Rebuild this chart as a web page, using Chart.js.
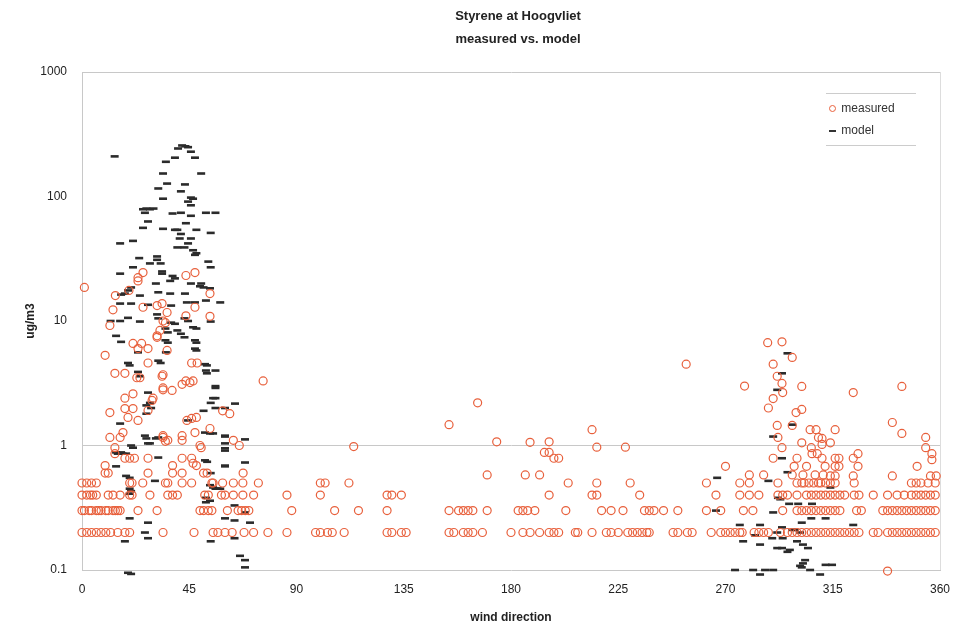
<!DOCTYPE html>
<html>
<head>
<meta charset="utf-8">
<script src="https://cdn.jsdelivr.net/npm/chart.js@4.4.1/dist/chart.umd.min.js"></script>
<style>
    body { margin: 0; background: #fff; font-family: 'Liberation Sans', Arial, sans-serif; }
    #wrap { position: relative; width: 964px; height: 629px; }
    .title { position: absolute; left: 418px; width: 200px; text-align: center; font-weight: bold; font-size: 13px; color: #222; }
    #legend { position: absolute; left: 826px; top: 93px; width: 90px; border-top: 1px solid #ccc; border-bottom: 1px solid #ccc; padding: 3px 0 4px 0; font-size: 12px; color: #333; }
    #legend div { height: 22px; line-height: 22px; }
    .sym { display: inline-block; width: 12px; text-align: center; }
    .circ { display: inline-block; width: 5px; height: 5px; border: 1px solid #e8603c; border-radius: 50%; }
    .dash { display: inline-block; width: 7px; height: 2px; background: #333; vertical-align: middle; }
</style>
</head>
<body>
<div id="wrap">
    <canvas id="chart"></canvas>
    <div class="title" style="top: 8px;">Styrene at Hoogvliet</div>
    <div class="title" style="top: 31px;">measured vs. model</div>
    <div id="legend">
        <div><span class="sym"><span class="circ"></span></span> measured</div>
        <div><span class="sym"><span class="dash"></span></span> model</div>
    </div>
</div>
<script>
const colors = {
    measured: '#e8603c',
    model: '#2b2b2b',
    grid: '#c8c8c8'
};

const xTicks = [0, 45, 90, 135, 180, 225, 270, 315, 360];
const yTicks = [0.1, 1, 10, 100, 1000];

// measured readings sitting on the detection steps (wind directions)
const measuredAt02 = [0, 2, 4, 6, 8, 10, 12, 15, 18, 20, 34, 47, 55, 57, 60, 63, 68, 72, 78, 86, 98, 100, 103, 105, 110,
    128, 130, 134, 136, 154, 156, 160, 162, 164, 168, 180, 185, 188, 192, 196, 198, 200, 207, 208, 214, 220, 222, 225,
    229, 231, 233, 235, 237, 238, 248, 250, 254, 256, 264, 268, 270, 272, 274, 276, 277, 282, 284, 286, 288, 293, 296,
    298, 300, 302, 304, 306, 308, 310, 312, 314, 316, 318, 320, 322, 324, 326, 332, 334, 338, 340, 342, 344, 346, 348,
    350, 352, 354, 356, 358];
const measuredAt03 = [0, 1, 3, 4, 6, 7, 8, 10, 11, 13, 14, 15, 16, 23.5, 31.5, 49.5, 51, 53, 54.5, 61, 65.5, 67, 68.5, 70,
    88, 106, 116, 128, 154, 158, 160, 162, 164, 170, 183, 185, 187, 190, 203, 218, 222, 227, 236, 238, 240, 244, 250,
    262, 268, 277.5, 281.5, 294, 300, 302, 304, 306, 308, 310, 312, 314, 316, 318, 325, 327, 336, 338, 340, 342, 344,
    346, 348, 350, 352, 354, 356, 358];
const measuredAt04 = [0, 2, 3.5, 4.5, 6, 11, 13, 16, 20, 21, 28.5, 36, 38, 40, 51.5, 53, 58.5, 60, 63.5, 67.5, 72, 86, 100,
    128, 130, 134, 196, 214, 216, 234, 266, 276, 280, 284, 292, 294, 296, 300, 304, 306, 308, 310, 312, 314, 316, 318,
    320, 324, 326, 332, 338, 342, 345, 348, 350, 352, 354, 356, 358];
const measuredAt05 = [0, 2, 4, 6, 20, 21, 25.5, 35, 36, 42, 46, 54.5, 55, 59, 63.5, 67.5, 74, 100, 102, 112, 204, 216, 230,
    262, 276, 280, 292, 300, 302, 303, 305, 307, 309, 310, 312, 314, 316, 324, 348, 350, 352, 355, 358];

// other measured readings [wind direction, ug/m3]
const measuredOther = [
    [1, 18.6], [14, 16], [13, 12.3], [23.5, 22.3], [23.5, 21], [25.6, 24.5], [19.7, 17.6], [25.6, 12.9], [31.5, 13.3],
    [33.6, 13.8], [35.7, 11.7], [43.6, 23.2], [47.4, 24.5], [47.4, 12.9], [53.7, 16.6], [53.7, 10.9], [43.6, 11],
    [11.7, 9.2], [9.7, 5.3], [13.8, 3.8], [18, 3.8], [21.4, 6.6], [25, 6.6], [23.5, 6.0], [27.7, 6.0], [27.7, 4.6],
    [23, 3.5], [24.3, 3.5], [33.6, 3.6], [35.7, 5.8], [31.5, 7.4], [31.5, 7.6], [32.7, 8.4], [34, 10], [35, 9.7],
    [18, 2.4], [21.4, 2.6], [11.7, 1.84], [18, 1.98], [21.4, 1.98], [19.3, 1.68], [23.5, 1.59], [27.7, 1.91],
    [29.4, 2.3], [29.8, 2.4], [34, 2.9], [34, 2.8], [37.8, 2.77], [42, 3.1], [43.6, 3.3], [45.3, 3.2], [46.6, 3.3],
    [48.3, 4.6], [46, 4.6], [34, 3.7], [44, 1.59], [46, 1.65], [48, 1.68], [47.4, 1.27], [53.7, 1.37], [59, 1.9],
    [62, 1.8], [11.7, 1.16], [16, 1.16], [17.2, 1.27], [13.8, 0.96], [13.8, 0.86], [9.7, 0.69], [9.7, 0.6], [11, 0.6],
    [18, 0.79], [20, 0.79], [22, 0.79], [27.7, 0.79], [27.7, 0.6], [34, 1.2], [36, 1.1], [34, 1.16], [35, 1.08],
    [38, 0.69], [38, 0.6], [42, 1.2], [42, 1.1], [42, 0.6], [42, 0.79], [46, 0.79], [46.6, 0.72], [48, 0.69],
    [49.5, 1.0], [50, 0.96], [51, 0.6], [52.5, 0.6], [63.5, 1.1], [66, 1.0], [67.6, 0.6], [76, 3.3],
    [114, 0.98], [154, 1.47], [166, 2.2], [174, 1.07], [188, 1.06], [196, 1.07], [194, 0.88], [196, 0.88],
    [198, 0.79], [200, 0.79], [170, 0.58], [186, 0.58], [192, 0.58], [214, 1.34], [216, 0.97], [228, 0.97],
    [253.5, 4.5],
    [287.7, 6.7], [293.7, 6.8], [298, 5.1], [290, 4.5], [291.7, 3.6], [293.7, 3.15], [294, 2.66], [278, 3.0],
    [302, 2.98], [290, 2.38], [288, 2.0], [299.6, 1.84], [302, 1.95], [291.7, 1.45], [298, 1.45], [305.5, 1.34],
    [308, 1.34], [292, 1.16], [309, 1.16], [293.7, 0.96], [302, 1.05], [306, 0.96], [306.3, 0.86], [308.5, 0.86],
    [310.5, 0.79], [290, 0.79], [300, 0.79], [270, 0.68], [304, 0.68], [298.8, 0.68], [280, 0.58], [286, 0.58],
    [298, 0.58], [302.5, 0.58], [307.6, 0.58], [311, 0.58],
    [323.6, 2.66], [344, 2.98], [316, 1.34], [340, 1.53], [344, 1.25], [354, 1.16], [354, 0.96], [356.6, 0.86],
    [356.6, 0.77], [310.5, 1.14], [310.5, 1.02], [314, 1.05], [325.6, 0.86], [323.6, 0.79], [316, 0.79],
    [317.6, 0.79], [311.8, 0.68], [316, 0.68], [317.6, 0.68], [325.6, 0.68], [350.4, 0.68], [340, 0.57], [314, 0.57],
    [316, 0.57], [323.6, 0.57], [356, 0.57], [358.4, 0.57], [338, 0.098]
];

// model results [wind direction, ug/m3]
const modelPoints = [
    [13.7, 210], [42, 257], [43.4, 253], [40.3, 243], [44.5, 249], [45.7, 229], [39, 205], [47.4, 205], [35.2, 190],
    [50, 153], [34, 153], [35.7, 127], [43.2, 125], [41.5, 110], [32, 116], [45.7, 98], [46.6, 96], [34, 96],
    [44.5, 91], [45.7, 85], [25.6, 79], [27, 80], [28.5, 79], [30, 80], [26.4, 74], [38, 73], [41.5, 74], [45.7, 70],
    [52, 74], [56, 74], [27.7, 63], [43.6, 61], [25.6, 56], [34, 55], [39, 54], [40, 54], [48, 54], [54, 51],
    [41.5, 50], [21.4, 44], [16, 42], [41, 46], [45.7, 46], [44.5, 42], [40, 39], [43, 39], [46.6, 37], [48, 35],
    [47.4, 34], [31.5, 33], [31.5, 31], [24, 32], [28.5, 29], [33, 29], [53, 30], [21.4, 27], [54, 27], [16, 24],
    [33.6, 25], [33.6, 24], [38, 23], [39, 22], [31, 20], [37, 21], [45.7, 20], [49.5, 19], [51, 18.6], [50, 20],
    [20.6, 18.6], [19.3, 17.6], [16.4, 16.3], [18, 16.6], [24.3, 16], [32, 17], [37, 16.6], [43.2, 16.6],
    [53.7, 18.3], [16, 13.8], [20.6, 13.8], [27.7, 13.5], [37.4, 13.3], [44, 14.1], [47.4, 14.1], [52, 14.6],
    [58, 14.1], [12, 10], [16, 10], [19.3, 10.6], [24.3, 9.9], [31.5, 11.3], [32, 10.5], [43, 10.5], [44.5, 10],
    [37.4, 9.7], [39, 9.5], [54, 9.9],
    [14.3, 7.6], [16.4, 6.8], [23.5, 5.6], [19.3, 4.6], [20, 4.4], [23.5, 3.9], [24.3, 3.6], [27.7, 2.66],
    [28.5, 2.2], [29, 2.0], [27, 2.1], [27, 1.8], [32, 4.8], [33, 4.6], [35, 8.7], [36, 8.1], [35, 7.0], [36, 6.7],
    [35.2, 5.6], [40, 8.4], [41.5, 7.9], [43, 7.4], [46.6, 8.9], [48, 8.7], [47.4, 7.0], [48, 6.7], [47.4, 6.0],
    [48, 5.8], [51.6, 4.5], [52, 4.0], [56, 4.0], [56, 3.0], [56, 2.4], [54, 2.2], [51, 1.9], [56, 2.0], [60, 2.0],
    [51.6, 1.27], [53.7, 1.25], [55, 1.25], [60, 1.2], [60, 1.04], [60, 0.95], [26.4, 1.2], [27, 1.14],
    [27.7, 1.04], [28.5, 1.04], [20.6, 1.0], [21.4, 0.96], [15, 0.86], [16.4, 0.88], [16, 1.5], [32, 1.16],
    [31, 1.14], [44.5, 1.59], [52.4, 4.4], [52.4, 3.8], [56, 2.9], [55, 2.4], [64.2, 2.17], [68.4, 1.12],
    [60, 1.18], [60, 0.91], [60, 0.68], [68.4, 0.73], [52.5, 0.74],
    [14.3, 0.88], [17, 0.86], [18.5, 0.86], [32, 0.8], [14.3, 0.68], [18.5, 0.57], [20, 0.55], [30.6, 0.52],
    [20, 0.45], [20.6, 0.43], [20, 0.41], [51.6, 0.76], [60, 0.69], [54, 0.6], [53.7, 0.48], [55, 0.46], [56, 0.45],
    [57, 0.45], [58, 0.45], [52, 0.38], [53.7, 0.36], [52, 0.35], [64, 0.33], [60, 0.26], [64, 0.25], [70.5, 0.24],
    [20, 0.26], [27.7, 0.24], [26.4, 0.2], [27.7, 0.18], [18, 0.17], [54, 0.17], [64, 0.18], [66.3, 0.13],
    [68.4, 0.12], [68.4, 0.105], [19.3, 0.095], [20.6, 0.093], [68.4, 0.29],
    [296, 5.5], [293.7, 3.8], [291.7, 2.8], [298, 1.47], [290, 1.18], [293.7, 0.79], [296, 0.61], [288, 0.52],
    [266.5, 0.55], [292, 0.38], [293, 0.37], [296.7, 0.34], [306.3, 0.34], [266, 0.3], [290, 0.29], [300.5, 0.34],
    [276, 0.23], [284.5, 0.23], [293.7, 0.22], [298, 0.21], [299, 0.21], [302, 0.24], [277.4, 0.17], [282.4, 0.19],
    [284.5, 0.16], [289.6, 0.18], [291.7, 0.2], [294, 0.18], [300, 0.17], [302.5, 0.16], [304.6, 0.15],
    [301.3, 0.2], [291.7, 0.15], [293.7, 0.15], [296, 0.14], [297, 0.145], [274, 0.1], [281.6, 0.1], [286.6, 0.1],
    [290, 0.1], [301.3, 0.108], [302.5, 0.113], [303.4, 0.12], [302, 0.105], [305.5, 0.1], [309.7, 0.092],
    [284.5, 0.092], [306, 0.26], [314, 0.46], [312, 0.26], [323.6, 0.23], [312, 0.11], [314.7, 0.11]
];

const toPoint = p => ({ x: p[0], y: p[1] });
const level = (dirs, v) => dirs.map(d => ({ x: d, y: v }));

const measuredData = [
    ...level(measuredAt02, 0.2),
    ...level(measuredAt03, 0.3),
    ...level(measuredAt04, 0.4),
    ...level(measuredAt05, 0.5),
    ...measuredOther.map(toPoint)
];

const tickFont = { family: "'Liberation Sans', Arial, sans-serif", size: 12 };
const titleFont = { family: "'Liberation Sans', Arial, sans-serif", size: 12, weight: 'bold' };

const ctx = document.getElementById('chart').getContext('2d');
new Chart(ctx, {
    type: 'scatter',
    data: {
        datasets: [{
            label: 'measured',
            data: measuredData,
            pointStyle: 'circle',
            pointRadius: 4,
            pointBorderWidth: 1.2,
            borderColor: colors.measured,
            backgroundColor: 'rgba(0,0,0,0)',
            clip: false
        }, {
            label: 'model',
            data: modelPoints.map(toPoint),
            pointStyle: 'line',
            pointRadius: 4,
            pointBorderWidth: 2.6,
            borderColor: colors.model,
            backgroundColor: colors.model,
            clip: false
        }]
    },
    options: {
        animation: false,
        responsive: true,
        maintainAspectRatio: false,
        layout: {
            padding: { left: 0, right: 24, top: 72, bottom: 0 }
        },
        plugins: {
            legend: { display: false },
            tooltip: { enabled: false }
        },
        scales: {
            x: {
                type: 'linear',
                min: 0,
                max: 360,
                afterFit: scale => { scale.height = 59; },
                afterBuildTicks: scale => { scale.ticks = xTicks.map(v => ({ value: v })); },
                border: { color: '#c8c8c8' },
                grid: {
                    drawTicks: false,
                    color: c => (c.tick && c.tick.value === 360) ? '#dddddd' : 'rgba(0,0,0,0)'
                },
                ticks: { padding: 12, color: '#222', font: tickFont, maxRotation: 0 },
                title: {
                    display: true,
                    text: 'wind direction',
                    color: '#222',
                    font: titleFont,
                    padding: { top: 0, bottom: 4 }
                }
            },
            y: {
                type: 'logarithmic',
                min: 0.1,
                max: 1000,
                afterFit: scale => { scale.width = 82; },
                afterBuildTicks: scale => { scale.ticks = yTicks.map(v => ({ value: v })); },
                border: { color: '#c8c8c8' },
                grid: {
                    drawTicks: false,
                    color: c => (c.tick && (c.tick.value === 1 || c.tick.value === 1000)) ? colors.grid : 'rgba(0,0,0,0)'
                },
                ticks: {
                    padding: 15,
                    color: '#222',
                    font: tickFont,
                    callback: v => String(v)
                },
                title: {
                    display: true,
                    text: 'ug/m3',
                    color: '#222',
                    font: titleFont,
                    padding: { top: 23, bottom: 0 }
                }
            }
        }
    }
});
</script>
</body>
</html>
